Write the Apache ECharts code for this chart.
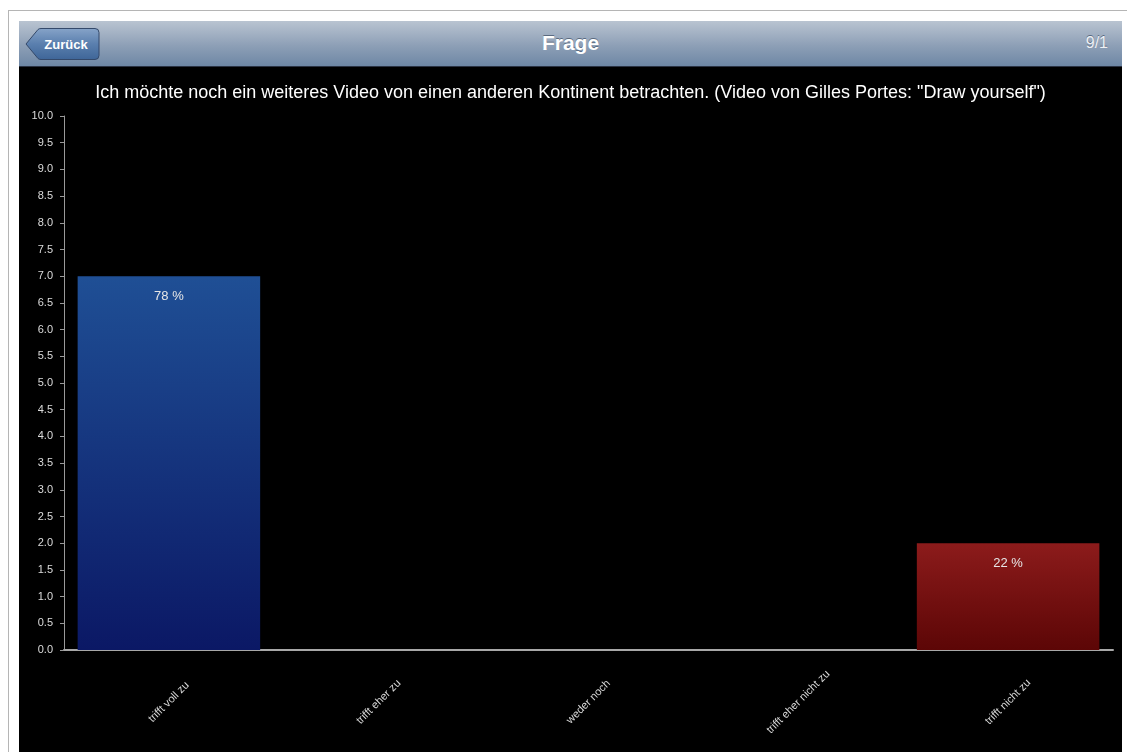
<!DOCTYPE html>
<html>
<head>
<meta charset="utf-8">
<script src="https://cdn.jsdelivr.net/npm/echarts@6/dist/echarts.min.js"></script>
<style>
  html, body { margin: 0; padding: 0; background: #fff; width: 1127px; height: 752px; overflow: hidden; font-family: "Liberation Sans", Arial, sans-serif; }
  #frame { position: absolute; left: 8px; top: 10px; width: 1130px; height: 760px; border: 1px solid #b5b5b5; box-sizing: border-box; }
  #header { position: absolute; left: 19px; top: 21px; width: 1103px; height: 46px; box-sizing: border-box;
    background: linear-gradient(#b9c4d1, #8d9fb6 55%, #6e87a5); border-bottom: 1px solid #2b3344; }
  #header .title { position: absolute; left: 0; right: 0; top: 10px; text-align: center; color: #fff; font-size: 21px; font-weight: bold; text-shadow: 0 -1px 0 #5a6a80; }
  #header .page { position: absolute; right: 14px; top: 13px; color: #eef1f5; font-size: 16px; text-shadow: 0 -1px 0 #5a6a80; }
  #header svg { position: absolute; left: 6px; top: 6px; }
  #chart { position: absolute; left: 19px; top: 67px; width: 1103px; height: 685px; background: #000; }
</style>
</head>
<body>
<div id="frame"></div>
<div id="header">
  <svg width="76" height="34" viewBox="0 0 76 34">
    <defs>
      <linearGradient id="btn" x1="0" y1="0" x2="0" y2="1">
        <stop offset="0" stop-color="#86a3c8"/>
        <stop offset="0.5" stop-color="#5a7fae"/>
        <stop offset="1" stop-color="#3f6698"/>
      </linearGradient>
    </defs>
    <path d="M1 17 L13 2.5 Q14 1.5 16 1.5 L70 1.5 Q74 1.5 74 5.5 L74 28.5 Q74 32.5 70 32.5 L16 32.5 Q14 32.5 13 31.5 Z" fill="url(#btn)" stroke="#34496a" stroke-width="1"/>
    <text x="41" y="21.5" text-anchor="middle" fill="#fff" font-family="Liberation Sans, Arial, sans-serif" font-size="13" font-weight="bold">Zurück</text>
  </svg>
  <div class="title">Frage</div>
  <div class="page">9/1</div>
</div>
<div id="chart"></div>
<script>
// Antwortkategorien und Werte
const categories = ["trifft voll zu", "trifft eher zu", "weder noch", "trifft eher nicht zu", "trifft nicht zu"];
const values = [7, 0, 0, 0, 2];
const percentLabels = ["78 %", "", "", "", "22 %"];
const questionText = 'Ich möchte noch ein weiteres Video von einen anderen Kontinent betrachten. (Video von Gilles Portes: "Draw yourself")';

// Farbverläufe je Balken
const BLUE = ["#1f4f95", "#0b1865"];
const RED = ["#8c1b1b", "#5c0606"];

function grad(c) {
  return new echarts.graphic.LinearGradient(0, 0, 0, 1, [
    { offset: 0, color: c[0] },
    { offset: 1, color: c[1] },
  ]);
}

const chart = echarts.init(document.getElementById("chart"));

chart.setOption({
  backgroundColor: "#000",
  animation: false,
  title: {
    text: questionText,
    left: "center",
    top: 12,
    textStyle: { color: "#fff", fontSize: 18, fontWeight: "normal", fontFamily: "Liberation Sans" },
  },
  grid: { left: 45, right: 9, top: 49, bottom: 102 },
  xAxis: {
    type: "category",
    data: categories,
    axisLine: { lineStyle: { color: "#a8a8a8", width: 2 } },
    axisTick: { alignWithLabel: true, length: 4, lineStyle: { color: "#bbb" } },
    axisLabel: {
      rotate: 45,
      align: "center",
      verticalAlign: "middle",
      margin: 52,
      interval: 0,
      color: "#d8d8d8",
      fontSize: 11,
      fontFamily: "Liberation Sans",
    },
  },
  yAxis: {
    type: "value",
    min: 0,
    max: 10,
    interval: 0.5,
    splitLine: { show: false },
    axisLine: { show: true, lineStyle: { color: "#9a9a9a" } },
    axisTick: { show: true, length: 4, lineStyle: { color: "#9a9a9a" } },
    axisLabel: {
      color: "#dcdcdc",
      fontSize: 11,
      margin: 11,
      fontFamily: "Liberation Sans",
      formatter: (v) => v.toFixed(1),
    },
  },
  series: [
    {
      type: "bar",
      barCategoryGap: "13%",
      data: values.map((v, i) => ({
        value: v,
        itemStyle: { color: grad(i === 0 ? BLUE : RED) },
        label: {
          show: v > 0,
          position: "insideTop",
          distance: 14,
          formatter: percentLabels[i],
          color: "#e6e6e6",
          fontSize: 13,
          fontFamily: "Liberation Sans",
        },
      })),
    },
  ],
});
</script>
</body>
</html>
